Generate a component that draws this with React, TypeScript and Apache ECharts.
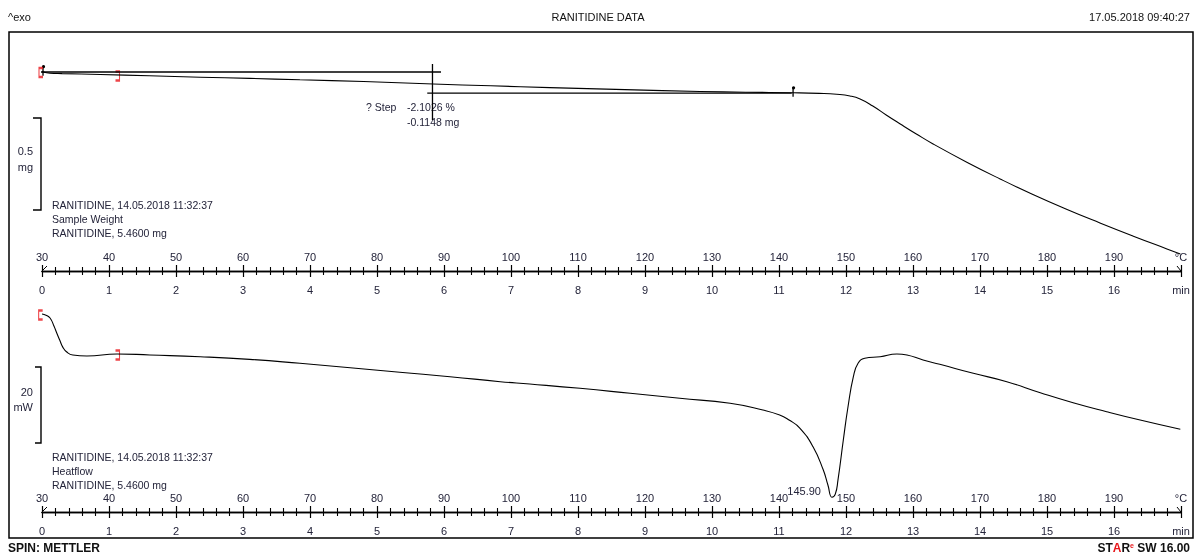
import { useEffect, useRef } from 'react';
import * as echarts from 'echarts';

const FONT = '"Liberation Sans", Arial, sans-serif';
const TEXT = '#24243a';

// Temperature axis (°C) and time axis (min) share the same scale (10 K/min)
const tempMin = 30;
const tempMax = 200;
const tempInterval = 10;
const timeMin = 0;
const timeMax = 17;
const timeInterval = 1;

// TGA curve: sample weight (mg) vs temperature (°C)
const tgaTemp = [30, 30.5, 31.2, 33, 38.7, 46, 53.6, 61, 68.5, 78, 88.4, 97, 105.8, 117, 128.2, 135, 142.1, 146, 148.6, 150.6, 152.1, 154.0, 156.0, 158.1, 160.5, 163.0, 168.1, 173.0, 177.9, 183.0, 187.9, 192.8, 197.9, 199.9];
const tgaMass = [5.462, 5.4573, 5.4535, 5.4513, 5.4464, 5.4393, 5.4317, 5.4252, 5.4176, 5.4084, 5.3948, 5.385, 5.3752, 5.3643, 5.354, 5.3502, 5.347, 5.3437, 5.3388, 5.3296, 5.3133, 5.2752, 5.2263, 5.1774, 5.123, 5.0687, 4.9682, 4.8785, 4.7942, 4.7127, 4.6393, 4.5687, 4.498, 4.4709];

// DSC curve: heat flow (mW) vs temperature (°C)
const dscTemp = [30, 30.6, 31.2, 31.8, 32.2, 32.7, 33.1, 33.7, 34.6, 36.7, 41.2, 46.1, 53.6, 61.0, 68.5, 76.0, 83.4, 90.9, 98.4, 102.8, 110.3, 117.8, 125.2, 132.7, 137.6, 140.1, 141.5, 143.1, 145.1, 146.6, 147.3, 147.9, 148.4, 148.8, 149.6, 150.3, 151.1, 151.8, 152.8, 155.1, 157.6, 159.1, 161.5, 164.0, 169.0, 174.0, 179.0, 183.9, 188.9, 193.9, 199.9];
const dscHeat = [17.1, 16.8, 16.05, 13.9, 12.1, 10.0, 8.4, 7.1, 6.3, 6.05, 6.6, 6.32, 5.87, 5.18, 4.13, 2.97, 1.76, 0.61, -0.71, -1.32, -2.45, -3.76, -5.08, -6.39, -8.16, -9.47, -10.8, -12.9, -17.9, -23.9, -27.9, -31.1, -30.3, -26.6, -16.05, -7.3, 0.61, 4.13, 5.45, 5.87, 6.58, 6.32, 5.0, 3.86, 1.5, -0.71, -3.6, -6.24, -8.6, -10.8, -13.24];

// Step evaluation construction lines (TGA)
const stepBaseTemp = [28.66, 89.55];
const stepBaseMass = [5.46, 5.46];
const stepEndTemp = [87.5, 141.9];
const stepEndMass = [5.345, 5.345];
const stepVertTemp = [88.28, 88.28];
const stepVertMass = [5.5035, 5.199];
const stepMarkTemp = [30.15, 142.1];
const stepMarkMass = [5.462, 5.347];

// Evaluation limit brackets
const tgaBracketTemp = [29.85, 41.27];
const tgaBracketMass = [5.457, 5.438];
const dscBracketTemp = [29.8, 41.27];
const dscBracketHeat = [16.84, 6.32];

const peakLabel = '145.90';

const zip = (a: number[], b: number[]) => a.map((x, i) => [x, b[i]]);

export default function App() {
  const ref = useRef<HTMLDivElement>(null);
  useEffect(() => {
    document.body.style.margin = '0';
    const el = ref.current!;
    const chart = echarts.init(el, undefined, { renderer: 'svg' });

    const tempAxis = (gridIndex: number) => ({
      type: 'value',
      gridIndex,
      position: 'bottom',
      min: tempMin,
      max: tempMax,
      interval: tempInterval,
      axisLine: { show: true, onZero: false, lineStyle: { color: '#000', width: 1.3 } },
      axisTick: { show: true, inside: true, length: 6, lineStyle: { color: '#000', width: 1.2 } },
      minorTick: { show: true, splitNumber: 5, length: 4, lineStyle: { color: '#000', width: 1.1 } },
      axisLabel: {
        inside: true,
        margin: 9,
        color: TEXT,
        fontSize: 11,
        fontFamily: FONT,
        showMinLabel: true,
        showMaxLabel: true,
        formatter: (v: number) => (v === tempMax ? '°C' : String(v)),
      },
      splitLine: { show: false },
      minorSplitLine: { show: false },
    });
    const timeAxis = (gridIndex: number) => ({
      type: 'value',
      gridIndex,
      position: 'bottom',
      min: timeMin,
      max: timeMax,
      interval: timeInterval,
      axisLine: { show: true, onZero: false, lineStyle: { color: '#000', width: 1.3 } },
      axisTick: { show: true, inside: false, length: 6, lineStyle: { color: '#000', width: 1.2 } },
      minorTick: { show: true, splitNumber: 5, length: 4, lineStyle: { color: '#000', width: 1.1 } },
      axisLabel: {
        margin: 13,
        color: TEXT,
        fontSize: 11,
        fontFamily: FONT,
        showMinLabel: true,
        showMaxLabel: true,
        formatter: (v: number) => (v === timeMax ? 'min' : String(v)),
      },
      splitLine: { show: false },
      minorSplitLine: { show: false },
    });

    const line = (data: number[][], xi: number, yi: number, extra: any = {}) => ({
      type: 'line',
      xAxisIndex: xi,
      yAxisIndex: yi,
      data,
      symbol: 'none',
      silent: true,
      clip: false,
      lineStyle: { color: '#000', width: 1.1 },
      ...extra,
    });

    const bracket = (data: number[][], xi: number, yi: number, path: string) => ({
      type: 'scatter',
      xAxisIndex: xi,
      yAxisIndex: yi,
      data,
      symbol: path,
      symbolSize: [4, 9],
      silent: true,
      clip: false,
      itemStyle: { color: 'rgba(0,0,0,0)', borderColor: '#e8161b', borderWidth: 1.6 },
    });

    const tgaB = zip(tgaBracketTemp, tgaBracketMass);
    const dscB = zip(dscBracketTemp, dscBracketHeat);
    const openPath = 'path://M4,0L0,0L0,12L4,12';
    const closePath = 'path://M0,0L4,0L4,12L0,12';

    chart.setOption({
      animation: false,
      grid: [
        { left: 42, width: 1139, top: 40, height: 231, outerBoundsMode: 'none' },
        { left: 42, width: 1139, top: 298, height: 214, outerBoundsMode: 'none' },
      ],
      xAxis: [tempAxis(0), timeAxis(0), tempAxis(1), timeAxis(1)],
      yAxis: [
        { type: 'value', gridIndex: 0, min: 4.378, max: 5.634, show: false },
        { type: 'value', gridIndex: 1, min: -35, max: 21.32, show: false },
      ],
      series: [
        line(zip(tgaTemp, tgaMass), 0, 0, { smooth: 0.5 }),
        line(zip(stepBaseTemp, stepBaseMass), 0, 0, { lineStyle: { color: '#000', width: 1.3 } }),
        line(zip(stepEndTemp, stepEndMass), 0, 0, { lineStyle: { color: '#000', width: 1.3 } }),
        line(zip(stepVertTemp, stepVertMass), 0, 0, { lineStyle: { color: '#000', width: 1.3 } }),
        line(zip(dscTemp, dscHeat), 2, 1, { smooth: 0.5 }),
        bracket([tgaB[0]], 0, 0, openPath),
        bracket([tgaB[1]], 0, 0, closePath),
        bracket([dscB[0]], 2, 1, openPath),
        bracket([dscB[1]], 2, 1, closePath),
      ],
    });

    const p0 = (t: number, m: number) => chart.convertToPixel({ xAxisIndex: 0, yAxisIndex: 0 }, [t, m]) as number[];
    const p1 = (t: number, v: number) => chart.convertToPixel({ xAxisIndex: 2, yAxisIndex: 1 }, [t, v]) as number[];

    const txt = (text: string, x: number, y: number, opts: any = {}) => ({
      type: 'text',
      x,
      y,
      silent: true,
      style: {
        text,
        fill: opts.fill || TEXT,
        font: opts.font || `11px ${FONT}`,
        align: opts.align || 'left',
        textAlign: opts.align || 'left',
        verticalAlign: 'middle',
        textVerticalAlign: 'middle',
      },
    });

    const els: any[] = [];
    els.push({
      type: 'rect',
      silent: true,
      shape: { x: 9, y: 32, width: 1184, height: 506 },
      style: { fill: 'none', stroke: '#000', lineWidth: 1.5 },
    });
    els.push(txt('^exo', 8, 17, { fill: '#111' }));
    els.push(txt('RANITIDINE DATA', 598, 17, { align: 'center', fill: '#111' }));
    els.push(txt('17.05.2018 09:40:27', 1190, 17, { align: 'right', fill: '#111' }));
    els.push(txt('SPIN: METTLER', 8, 548, { font: `bold 12px ${FONT}`, fill: '#111' }));
    els.push({
      type: 'text',
      x: 1190,
      y: 548,
      silent: true,
      style: {
        text: '{a|ST}{r|A}{a|R}{s|e}{a| SW 16.00}',
        align: 'right',
        textAlign: 'right',
        verticalAlign: 'middle',
        textVerticalAlign: 'middle',
        rich: {
          a: { fill: '#111', font: `bold 12px ${FONT}` },
          r: { fill: '#e8161b', font: `bold 12px ${FONT}` },
          s: { fill: '#e8161b', font: `bold 7px ${FONT}`, verticalAlign: 'top', padding: [0, 0, 6, 0] },
        },
      },
    });

    // scale bars
    els.push({
      type: 'polyline',
      silent: true,
      shape: { points: [[33, 118], [41, 118], [41, 210], [33, 210]] },
      style: { fill: 'none', stroke: '#000', lineWidth: 1.4 },
    });
    els.push(txt('0.5', 33, 151, { align: 'right' }));
    els.push(txt('mg', 33, 167, { align: 'right' }));
    els.push({
      type: 'polyline',
      silent: true,
      shape: { points: [[35, 367], [41, 367], [41, 443], [35, 443]] },
      style: { fill: 'none', stroke: '#000', lineWidth: 1.4 },
    });
    els.push(txt('20', 33, 392, { align: 'right' }));
    els.push(txt('mW', 33, 407, { align: 'right' }));

    // curve info
    const info = (lines: string[], y0: number) =>
      lines.forEach((s, i) => els.push(txt(s, 52, y0 + i * 14.3, { font: `10.5px ${FONT}` })));
    info(['RANITIDINE, 14.05.2018 11:32:37', 'Sample Weight', 'RANITIDINE, 5.4600 mg'], 204.5);
    info(['RANITIDINE, 14.05.2018 11:32:37', 'Heatflow', 'RANITIDINE, 5.4600 mg'], 456.5);

    // step result
    els.push(txt('? Step', 366, 107, { font: `10.5px ${FONT}` }));
    els.push(txt('-2.1026 %', 407, 107, { font: `10.5px ${FONT}` }));
    els.push(txt('-0.1148 mg', 407, 122, { font: `10.5px ${FONT}` }));

    // step markers
    stepMarkTemp.forEach((t, i) => {
      const [x, y] = p0(t, stepMarkMass[i]);
      els.push({ type: 'line', silent: true, shape: { x1: x, y1: y - 5, x2: x, y2: y + 4 }, style: { stroke: '#000', lineWidth: 1.3 } });
      els.push({ type: 'circle', silent: true, shape: { cx: x + 0.5, cy: y - 5, r: 1.6 }, style: { fill: '#000' } });
    });

    // peak label
    let mi = 0;
    dscHeat.forEach((v, i) => {
      if (v < dscHeat[mi]) mi = i;
    });
    const pk = p1(dscTemp[mi], dscHeat[mi]);
    els.push(txt(peakLabel, pk[0] - 11, pk[1] - 6, { align: 'right' }));

    // axis end glyphs
    [p0(tempMin, 4.378), p1(tempMin, -35)].forEach(([x, y]) => {
      els.push({ type: 'line', silent: true, shape: { x1: x, y1: y, x2: x + 5, y2: y - 5 }, style: { stroke: '#000', lineWidth: 1 } });
    });
    [p0(tempMax, 4.378), p1(tempMax, -35)].forEach(([x, y]) => {
      els.push({ type: 'line', silent: true, shape: { x1: x, y1: y, x2: x - 4, y2: y - 5 }, style: { stroke: '#000', lineWidth: 1 } });
    });

    chart.setOption({ graphic: { elements: els } });

    return () => chart.dispose();
  }, []);
  return <div ref={ref} style={{ position: 'fixed', left: 0, top: 0, width: 1196, height: 554 }} />;
}
